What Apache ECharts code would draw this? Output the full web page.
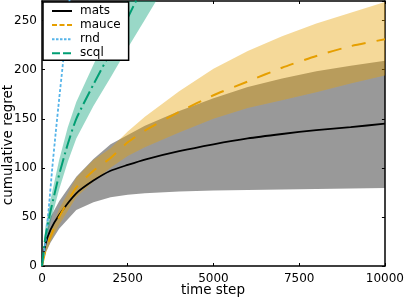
<!DOCTYPE html>
<html><head><meta charset="utf-8">
<script src="https://cdn.jsdelivr.net/npm/echarts@6/dist/echarts.min.js"></script>
<style>html,body{margin:0;padding:0;background:#fff}#c{width:407px;height:299px}</style>
</head><body><div id="c"></div>
<script>
var xs = [0,100,250,500,1000,1500,2000,2500,3000,4000,5000,6000,7000,8000,9000,10000];
var matsMean = [0,22,37,52,74,87,97,103,108.5,117,124,130,134.5,138.5,141.5,145];
var matsLow  = [0,13,24,38,57,65,70,72.5,74,76,77,77.5,78,78.5,79,79.5];
var matsHigh = [0,31,50,66,91,109,124,133.5,143,158,171,182.5,191,198.5,204,209];
var mauceMean = [0,15,30,50,80,97,110,126,138,157,174,188,202,214,224,231];
var mauceLow  = [0,12,25,42,70,86,100,112,121,136,150,161,169,177,186,194];
var mauceHigh = [0,18,35,58,90,108,120,137,152,178,201,219,234,247,258,269];
var rndX = [0,100,200,300,400,500,600,700,800,900];
var rndMean = [0,24,60,100,136,170,203,237,270,304];
var scqlX = [0,100,250,500,750,1000,1500,2000,2500,3000,3500];
var scqlMean = [0,30,56,93,124,150,185,218,253,288,320];
var scqlLow  = [0,22,45,78,106,130,163,192,222,251,280];
var scqlHigh = [0,40,68,108,141,167,205,242,281,320,355];
var xTicks = [0,2500,5000,7500,10000];
var yTicks = [0,50,100,150,200,250];

var FONT = 'DejaVu Sans';
function pairs(x, y){ return x.map(function(v,i){ return [v, y[i]]; }); }
function band(name, x, lo, hi, color){
  return {
    type:'custom', name:name, silent:true, z:1,
    data:[[0,0]],
    renderItem:function(params, api){
      var pts = [], i;
      for (i=0;i<x.length;i++) pts.push(api.coord([x[i], hi[i]]));
      for (i=x.length-1;i>=0;i--) pts.push(api.coord([x[i], lo[i]]));
      var cs = params.coordSys;
      return {type:'polygon', shape:{points:pts}, style:{fill:color},
        clipPath:{type:'rect', shape:{x:cs.x, y:cs.y, width:cs.width, height:cs.height}}};
    }
  };
}
function line(name, x, y, color, type, w){
  return {type:'line', name:name, data:pairs(x,y), symbol:'none', showSymbol:false, smooth:0.2,
    z:3, lineStyle:{color:color, width:w, type:type}, itemStyle:{color:color}};
}
var axisCommon = {
  axisLine:{show:true, onZero:false, lineStyle:{color:'#000', width:1.5}},
  axisTick:{show:true, inside:true, length:3, lineStyle:{color:'#000', width:1}},
  splitLine:{show:false}
};
function plain(v){ return String(v); }
var chart = echarts.init(document.getElementById('c'), null, {renderer:'canvas'});
chart.setOption({
  animation:false,
  grid:{left:42, right:22, top:1, bottom:33, containLabel:false},
  xAxis:[
    Object.assign({type:'value', min:xTicks[0], max:xTicks[xTicks.length-1], interval:xTicks[1]-xTicks[0], position:'bottom',
      axisLabel:{margin:7, fontFamily:FONT, fontSize:12, color:'#000', formatter:plain}}, axisCommon),
    Object.assign({type:'value', min:xTicks[0], max:xTicks[xTicks.length-1], interval:xTicks[1]-xTicks[0], position:'top',
      axisLabel:{show:false}}, axisCommon)
  ],
  yAxis:[
    Object.assign({type:'value', min:yTicks[0], max:270, interval:yTicks[1]-yTicks[0], position:'left',
      axisLabel:{margin:5, fontFamily:FONT, fontSize:12, color:'#000', showMaxLabel:false, formatter:plain}}, axisCommon),
    Object.assign({type:'value', min:yTicks[0], max:270, interval:yTicks[1]-yTicks[0], position:'right',
      axisLabel:{show:false}}, axisCommon)
  ],
  legend:{
    orient:'vertical', left:43, top:2,
    data:[
      {name:'mats'},
      {name:'mauce', lineStyle:{type:[5,2.5]}},
      {name:'rnd', lineStyle:{type:[2.5,1.5]}},
      {name:'scql', lineStyle:{type:[8,3]}}
    ],
    itemWidth:20, itemHeight:12, itemGap:2.1,
    itemStyle:{opacity:0},
    padding:[3,8,1,8],
    backgroundColor:'#fff', borderColor:'#000', borderWidth:1.5, borderRadius:0,
    textStyle:{fontFamily:FONT, fontSize:12, color:'#000', padding:[0,0,0,3]}
  },
  graphic:[
    {type:'text', x:8, y:145, rotation:Math.PI/2, style:{text:'cumulative regret', font:'13.5px "DejaVu Sans"', fill:'#000', align:'center', verticalAlign:'middle'}},
    {type:'text', x:213, y:290, style:{text:'time step', font:'13.5px "DejaVu Sans"', fill:'#000', align:'center', verticalAlign:'middle'}}
  ],
  series:[
    band('mats band', xs, matsLow, matsHigh, 'rgba(0,0,0,0.4)'),
    band('mauce band', xs, mauceLow, mauceHigh, 'rgba(230,159,0,0.4)'),
    band('scql band', scqlX, scqlLow, scqlHigh, 'rgba(0,158,115,0.4)'),
    line('mats', xs, matsMean, '#000', 'solid', 1.8),
    line('mauce', xs, mauceMean, '#E69F00', [14,11], 2),
    line('rnd', rndX, rndMean, '#56B4E9', [3,2], 1.8),
    line('scql', scqlX, scqlMean, '#009E73', [14,4,2,4], 2)
  ]
});
</script></body></html>
